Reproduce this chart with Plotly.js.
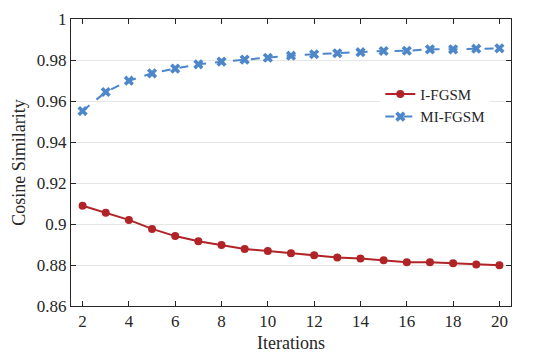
<!DOCTYPE html>
<html>
<head>
<meta charset="utf-8">
<script src="https://cdn.plot.ly/plotly-3.0.1.min.js"></script>
<style>html,body{margin:0;padding:0;background:#fff;}#chart{width:537px;height:357px;}</style>
</head>
<body>
<div id="chart"></div>
<script>
const iterations = [2,3,4,5,6,7,8,9,10,11,12,13,14,15,16,17,18,19,20];
const ifgsm = [0.9089,0.9055,0.9020,0.8976,0.8941,0.8916,0.8898,0.8878,0.8868,0.8857,0.8847,0.8837,0.8832,0.8823,0.8813,0.8814,0.8808,0.8803,0.8799];
const mifgsm = [0.9551,0.9644,0.9699,0.9735,0.9758,0.9779,0.9792,0.9802,0.9811,0.9821,0.9828,0.9833,0.9838,0.9844,0.9845,0.9852,0.9852,0.9855,0.9857];
const xTicks = [2,4,6,8,10,12,14,16,18,20];
const yTicks = [0.86,0.88,0.9,0.92,0.94,0.96,0.98,1];
const yTickText = ['0.86','0.88','0.9','0.92','0.94','0.96','0.98','1'];

const red = '#B02428';
const blue = '#4E87C9';
const font = 'Liberation Serif';

const traces = [
  {x: iterations, y: ifgsm, name: 'I-FGSM', type: 'scatter', mode: 'lines+markers',
   line: {color: red, width: 2}, marker: {color: red, size: 8, symbol: 'circle'}},
  {x: iterations, y: mifgsm, name: 'MI-FGSM', type: 'scatter', mode: 'lines+markers',
   line: {color: blue, width: 2, dash: 'dash'}, marker: {color: blue, size: 9, symbol: 'x'}}
];

const axisCommon = {
  showline: true, linecolor: '#262626', linewidth: 1, mirror: 'ticks',
  ticks: 'inside', ticklen: 5, tickcolor: '#262626', zeroline: false,
  tickfont: {family: font, size: 17, color: '#262626'}
};

const layout = {
  width: 537, height: 357,
  margin: {l: 71, r: 26, t: 19, b: 51},
  paper_bgcolor: '#fff', plot_bgcolor: '#fff',
  font: {family: font, color: '#262626'},
  showlegend: true,
  legend: {x: 0.703, y: 0.795, xanchor: 'left', yanchor: 'top', bgcolor: 'rgba(255,255,255,1)',
           font: {family: font, size: 15, color: '#262626'}, tracegroupgap: 0, itemwidth: 30},
  xaxis: Object.assign({}, axisCommon, {
    range: [1.5, 20.5], tickvals: xTicks, showgrid: false,
    title: {text: 'Iterations', font: {family: font, size: 18, color: '#262626'}, standoff: 5}
  }),
  yaxis: Object.assign({}, axisCommon, {
    range: [0.86, 1], tickvals: yTicks, ticktext: yTickText, showgrid: true, gridcolor: '#E6E6E6', gridwidth: 1,
    title: {text: 'Cosine Similarity', font: {family: font, size: 18, color: '#262626'}, standoff: 6}
  })
};

Plotly.newPlot('chart', traces, layout, {displayModeBar: false, staticPlot: true});
</script>
</body>
</html>
